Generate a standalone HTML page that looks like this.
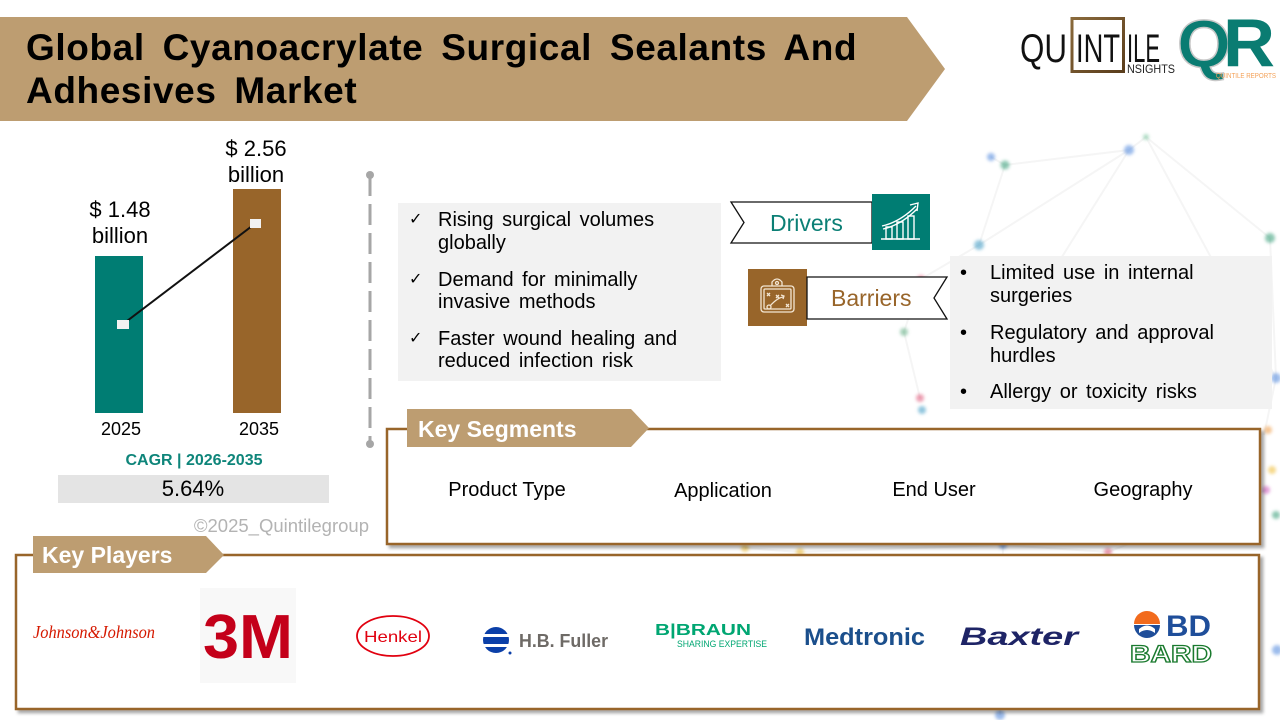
<!DOCTYPE html>
<html><head><meta charset="utf-8"><style>
html,body{margin:0;padding:0;background:#fff;}
svg{display:block;}
text{font-family:"Liberation Sans",Arial,sans-serif;}
</style></head><body>
<svg width="1280" height="720" viewBox="0 0 1280 720" xmlns="http://www.w3.org/2000/svg">
<defs>
<filter id="sh" x="-5%" y="-5%" width="110%" height="120%">
<feDropShadow dx="3" dy="3" stdDeviation="1.5" flood-color="#000" flood-opacity="0.35"/>
</filter>
<filter id="bl"><feGaussianBlur stdDeviation="1.5"/></filter>
<linearGradient id="bg1" x1="0" y1="0" x2="1" y2="1">
<stop offset="0" stop-color="#8a6a3c"/><stop offset="1" stop-color="#5a3d1c"/>
</linearGradient>
</defs>
<rect width="1280" height="720" fill="#fff"/>

<!-- faint background network -->
<g stroke="#f1f1f1" stroke-width="2" fill="none" opacity="0.7">
<path d="M991 157 L1005 165 L1129 150 L1146 137 L1270 238"/>
<path d="M1005 165 L979 245 L921 279 L904 332 L920 398"/>
<path d="M1129 150 L1060 260 L1000 300"/>
<path d="M1146 137 L1276 378 L1264 435"/>
<path d="M979 245 L1129 150"/>
<path d="M745 548 L800 552 L1003 545 L1108 552 L1266 490"/>
<path d="M1003 545 L1000 715"/>
<path d="M1270 238 L1276 378"/>
</g>
<g filter="url(#bl)" opacity="0.6">
<circle cx="991" cy="157" r="4" fill="#5a8fe0"/>
<circle cx="1005" cy="165" r="4.5" fill="#3fa37f"/>
<circle cx="1129" cy="150" r="5" fill="#5a8fe0"/>
<circle cx="1146" cy="137" r="3" fill="#7cc7a0"/>
<circle cx="979" cy="245" r="5" fill="#4aa0c8"/>
<circle cx="1270" cy="238" r="5" fill="#3fa37f"/>
<circle cx="921" cy="279" r="4" fill="#f07090"/>
<circle cx="904" cy="332" r="4" fill="#6ab38a"/>
<circle cx="920" cy="398" r="4" fill="#e06080"/>
<circle cx="922" cy="410" r="4" fill="#4aa0c8"/>
<circle cx="1276" cy="378" r="5" fill="#5a8fe0"/>
<circle cx="1268" cy="430" r="4" fill="#f0a050"/>
<circle cx="1272" cy="470" r="4" fill="#f0c040"/>
<circle cx="1266" cy="490" r="4" fill="#d060c0"/>
<circle cx="1276" cy="515" r="4" fill="#3fa37f"/>
<circle cx="745" cy="548" r="4" fill="#f0c040"/>
<circle cx="800" cy="552" r="4" fill="#f0c040"/>
<circle cx="1003" cy="545" r="4" fill="#5a8fe0"/>
<circle cx="1108" cy="552" r="4" fill="#e06080"/>
<circle cx="1000" cy="715" r="5" fill="#5a8fe0"/>
<circle cx="1277" cy="650" r="5" fill="#5a8fe0"/>
</g>

<!-- Title banner -->
<polygon points="0,17 907,17 945,69 907,121 0,121" fill="#BD9D71"/>
<text x="26" y="60" font-size="37" font-weight="bold" fill="#000" letter-spacing="0.6" word-spacing="7">Global Cyanoacrylate Surgical Sealants And</text>
<text x="26" y="103" font-size="37" font-weight="bold" fill="#000" letter-spacing="0.6" word-spacing="7">Adhesives Market</text>

<!-- Logos top right -->
<rect x="1072" y="18.5" width="51.5" height="53" fill="none" stroke="url(#bg1)" stroke-width="3"/>
<text x="1020" y="62" font-size="40" fill="#111" textLength="47" lengthAdjust="spacingAndGlyphs">QU</text>
<text x="1076" y="62" font-size="40" fill="#111" textLength="44" lengthAdjust="spacingAndGlyphs">INT</text>
<text x="1127" y="62" font-size="40" fill="#111" textLength="33" lengthAdjust="spacingAndGlyphs">ILE</text>
<text x="1127" y="73" font-size="12" fill="#222" textLength="48" lengthAdjust="spacingAndGlyphs">NSIGHTS</text>
<text x="1177" y="67" font-size="68" font-weight="bold" fill="#0A7C72" stroke="#c8c8c8" stroke-width="1.5" textLength="54" lengthAdjust="spacingAndGlyphs">Q</text>
<text x="1223" y="66" font-size="68" font-weight="bold" fill="#0A7C72" textLength="52" lengthAdjust="spacingAndGlyphs">R</text>
<text x="1216" y="78" font-size="7" fill="#F4A259" textLength="60" lengthAdjust="spacingAndGlyphs">QUINTILE REPORTS</text>

<!-- Bar chart -->
<rect x="95" y="256" width="48" height="157" fill="#007D73"/>
<rect x="233" y="189" width="48" height="224" fill="#98652A"/>
<line x1="123" y1="324" x2="256" y2="223" stroke="#111" stroke-width="2"/>
<rect x="117" y="320" width="12" height="9" fill="#F2F2F2"/>
<rect x="250" y="219" width="11" height="9" fill="#F2F2F2"/>
<text x="120" y="217" font-size="22" text-anchor="middle" fill="#000">$ 1.48</text>
<text x="120" y="243" font-size="22" text-anchor="middle" fill="#000">billion</text>
<text x="256" y="156" font-size="22" text-anchor="middle" fill="#000">$ 2.56</text>
<text x="256" y="182" font-size="22" text-anchor="middle" fill="#000">billion</text>
<text x="121" y="435" font-size="18" text-anchor="middle" fill="#000">2025</text>
<text x="259" y="435" font-size="18" text-anchor="middle" fill="#000">2035</text>
<text x="194" y="465" font-size="16" font-weight="bold" text-anchor="middle" fill="#0E857A">CAGR | 2026-2035</text>
<rect x="58" y="475" width="271" height="28" fill="#E4E4E4"/>
<text x="193" y="496" font-size="22" text-anchor="middle" fill="#000">5.64%</text>
<text x="369" y="532" font-size="18.5" text-anchor="end" fill="#B3B3B3">©2025_Quintilegroup</text>

<!-- Dashed divider -->
<line x1="370" y1="175" x2="370" y2="444" stroke="#A6A6A6" stroke-width="3" stroke-dasharray="21 8"/>
<circle cx="370" cy="175" r="4" fill="#A6A6A6"/>
<circle cx="370" cy="444" r="4" fill="#A6A6A6"/>

<!-- Drivers list -->
<rect x="398" y="203" width="323" height="178" fill="#F2F2F2"/>
<g font-size="20" fill="#000" word-spacing="3">
<text x="438" y="226">Rising surgical volumes</text>
<text x="438" y="249">globally</text>
<text x="438" y="286">Demand for minimally</text>
<text x="438" y="308">invasive methods</text>
<text x="438" y="345">Faster wound healing and</text>
<text x="438" y="367">reduced infection risk</text>
</g>
<g font-size="16" fill="#000">
<text x="409" y="224" style="font-family:'DejaVu Sans',sans-serif">✓</text>
<text x="409" y="284" style="font-family:'DejaVu Sans',sans-serif">✓</text>
<text x="409" y="343" style="font-family:'DejaVu Sans',sans-serif">✓</text>
</g>

<!-- Drivers ribbon -->
<polygon points="731,202 872,202 872,243 731,243 744,222.5" fill="#fff" stroke="#111" stroke-width="1.3"/>
<text x="770" y="231" font-size="23" fill="#0B7F75">Drivers</text>
<rect x="872" y="194" width="58" height="56" fill="#007D73"/>
<g stroke="#fff" stroke-width="1.4" fill="none">
<line x1="881" y1="239" x2="920" y2="239"/>
<rect x="886" y="227" width="6" height="12"/>
<rect x="897" y="222" width="6" height="17"/>
<rect x="908" y="216" width="6" height="23"/>
<path d="M882 226 Q900 222 916 206"/>
<path d="M883 229 Q901 225 917 209"/>
<path d="M910 205 L918 203 L917 211"/>
</g>

<!-- Barriers -->
<rect x="748" y="269" width="59" height="57" fill="#98652A"/>
<g stroke="#F3E6D3" stroke-width="1.3" fill="none">
<rect x="761" y="286" width="33" height="26" rx="3"/>
<rect x="764" y="289" width="27" height="20" rx="1"/>
<path d="M772 286 L772 282 Q777 276 782 282 L782 286"/>
<circle cx="777" cy="283" r="1.5"/>
<path d="M770 306 Q778 297 784 297" />
<circle cx="769" cy="307" r="2"/>
<path d="M767 293 l3 3 m0 -3 l-3 3 M776 295 l3 3 m0 -3 l-3 3 M786 304 l3 3 m0 -3 l-3 3"/>
<path d="M781 295 l3 1 l-1 3"/>
</g>
<polygon points="807,277 947,277 934,298 947,319 807,319" fill="#fff" stroke="#111" stroke-width="1.3"/>
<text x="831" y="306" font-size="23" fill="#98652A">Barriers</text>

<rect x="950" y="256" width="322" height="153" fill="#F2F2F2"/>
<g font-size="20" fill="#000" word-spacing="3">
<text x="960" y="279">•</text>
<text x="990" y="279">Limited use in internal</text>
<text x="990" y="302">surgeries</text>
<text x="960" y="339">•</text>
<text x="990" y="339">Regulatory and approval</text>
<text x="990" y="362">hurdles</text>
<text x="960" y="398">•</text>
<text x="990" y="398">Allergy or toxicity risks</text>
</g>

<!-- Key Segments -->
<rect x="387" y="429" width="873" height="115" fill="#fff" stroke="#98652A" stroke-width="2.5" filter="url(#sh)"/>
<polygon points="407,409 631,409 649,428 631,447 407,447" fill="#BD9D71"/>
<text x="418" y="437" font-size="23" font-weight="bold" fill="#fff">Key Segments</text>
<g font-size="20" fill="#000" text-anchor="middle">
<text x="507" y="496">Product Type</text>
<text x="723" y="497">Application</text>
<text x="934" y="496">End User</text>
<text x="1143" y="496">Geography</text>
</g>

<!-- Key Players -->
<rect x="16" y="555" width="1243" height="154" fill="#fff" stroke="#98652A" stroke-width="2.5" filter="url(#sh)"/>
<polygon points="33,536 206,536 224,555 206,573 33,573" fill="#BD9D71"/>
<text x="42" y="563" font-size="23" font-weight="bold" fill="#fff">Key Players</text>

<!-- J&J -->
<text x="33" y="638" font-size="18" font-style="italic" fill="#D51900" textLength="122" lengthAdjust="spacingAndGlyphs" style="font-family:'Liberation Serif',serif">Johnson&amp;Johnson</text>
<!-- 3M -->
<rect x="200" y="588" width="96" height="95" fill="#F8F8F8"/>
<text x="203" y="658" font-size="62" font-weight="bold" fill="#C4001A" textLength="90" lengthAdjust="spacingAndGlyphs">3M</text>
<!-- Henkel -->
<ellipse cx="393" cy="636" rx="36" ry="20" fill="#fff" stroke="#E1000F" stroke-width="1.8"/>
<text x="393" y="642" font-size="16" fill="#E1000F" text-anchor="middle" textLength="58" lengthAdjust="spacingAndGlyphs">Henkel</text>
<!-- H.B. Fuller -->
<circle cx="496" cy="640" r="13" fill="#0B3FA8"/>
<rect x="482" y="634" width="28" height="3" fill="#fff"/>
<rect x="482" y="644" width="28" height="3" fill="#fff"/>
<circle cx="510" cy="653" r="1.5" fill="#0B3FA8"/>
<text x="519" y="647" font-size="18" font-weight="bold" fill="#6E6A66" textLength="89" lengthAdjust="spacingAndGlyphs">H.B. Fuller</text>
<!-- B|BRAUN -->
<text x="655" y="635" font-size="16" font-weight="bold" fill="#00A672" textLength="96" lengthAdjust="spacingAndGlyphs">B|BRAUN</text>
<text x="677" y="647" font-size="9" fill="#00A672" textLength="90" lengthAdjust="spacingAndGlyphs">SHARING EXPERTISE</text>
<!-- Medtronic -->
<text x="804" y="645" font-size="24" font-weight="bold" fill="#1B4F8C" textLength="121" lengthAdjust="spacingAndGlyphs">Medtronic</text>
<!-- Baxter -->
<text x="960" y="645" font-size="25" font-weight="bold" font-style="italic" fill="#1E2466" textLength="118" lengthAdjust="spacingAndGlyphs">Baxter</text>
<!-- BD BARD -->
<path d="M1134 624 A13 13 0 0 1 1160 624 Z" fill="#F26B1D"/>
<path d="M1134 625 L1160 625 A13 13 0 0 1 1134 625 Z" fill="#1F4E9A"/>
<path d="M1139 629 Q1147 622 1155 629 L1155 633 Q1147 627 1139 633 Z" fill="#fff"/>
<text x="1166" y="636" font-size="30" font-weight="bold" fill="#1F4E9A" textLength="45" lengthAdjust="spacingAndGlyphs">BD</text>
<text x="1130" y="662" font-size="24" font-weight="bold" fill="#fff" stroke="#1A7A2E" stroke-width="1.3" textLength="82" lengthAdjust="spacingAndGlyphs">BARD</text>
</svg>
</body></html>
